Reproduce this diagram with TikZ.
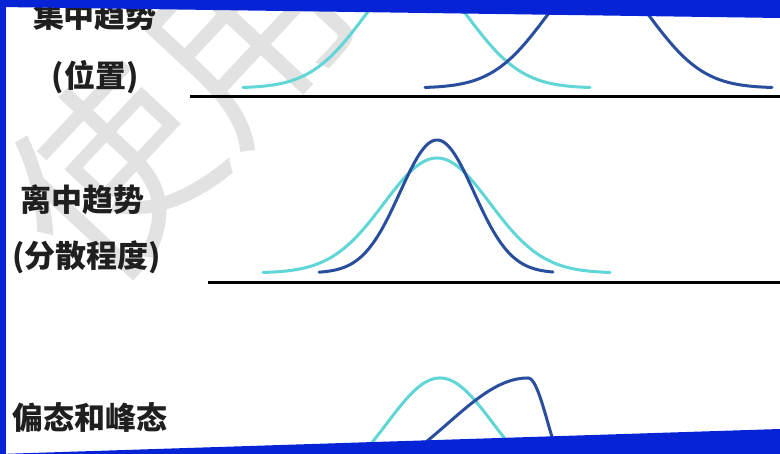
\documentclass[tikz,border=0pt]{standalone}
\usepackage{fontspec}
\newfontfamily\cjk{Noto Sans CJK SC}
\definecolor{frameblue}{RGB}{6,36,214}
\definecolor{lightc}{RGB}{96,214,214}
\definecolor{darkc}{RGB}{42,78,158}
\definecolor{wmgray}{RGB}{226,226,226}
\begin{document}
\begin{tikzpicture}[x=1pt,y=-1pt,
  lbl/.style={font=\cjk\bfseries\fontsize{31}{36}\selectfont, inner sep=0pt, text=black!88},
  wm/.style={font=\cjk\fontsize{195}{200}\selectfont, inner sep=0pt, text=wmgray},
  base/.style={line width=3pt, black},
  cy/.style={line width=3pt, lightc, line cap=round},
  dk/.style={line width=3pt, darkc, line cap=round, line join=round}]
\useasboundingbox (0,0) rectangle (780,454);
\fill[white] (0,0) rectangle (780,454);
% watermark
\node[wm, rotate=47] (wmark) at (178,102) {使用};
% top panel
\draw[cy] plot[domain=243:590,samples=120] (\x,{88-115*exp(-0.5*((\x-416)/53)*((\x-416)/53))});
\draw[dk] plot[domain=425:772,samples=120] (\x,{88-115*exp(-0.5*((\x-598)/53)*((\x-598)/53))});
\coordinate (b1s) at (190,97);
\coordinate (b1e) at (780,97);
\draw[base] (b1s) -- (b1e);
% middle panel
\draw[cy] plot[domain=263:610,samples=120] (\x,{273-115*exp(-0.5*((\x-437)/53)*((\x-437)/53))});
\draw[dk] plot[domain=319:553,samples=120] (\x,{273-133*exp(-0.5*((\x-437)/37)*((\x-437)/37))});
\coordinate (b2s) at (208,283);
\coordinate (b2e) at (780,283);
\draw[base] (b2s) -- (b2e);
% bottom panel
\draw[cy] plot[domain=340:545,samples=100] (\x,{493-115*exp(-0.5*((\x-440)/53)*((\x-440)/53))});
\draw[dk] plot[domain=375:528,samples=80] (\x,{493-115*exp(-0.5*((\x-528)/80)*((\x-528)/80))})
  -- plot[domain=528:575,samples=40] (\x,{493-115*exp(-0.5*((\x-528)/20)*((\x-528)/20))});
% labels
\node[lbl] (t1) at (95,16) {集中趋势};
\node[lbl] (t2) at (95,77) {(位置)};
\node[lbl] (t3) at (82,200) {离中趋势};
\node[lbl] (t4) at (87,257) {(分散程度)};
\node[lbl] (t5) at (90,417) {偏态和峰态};
% frame
\fill[frameblue] (0,0) -- (780,0) -- (780,18) -- (0,7) -- cycle;
\fill[frameblue] (0,0) rectangle (6,454);
\fill[frameblue] (0,454) -- (780,429) -- (780,454) -- cycle;
\end{tikzpicture}
\end{document}
